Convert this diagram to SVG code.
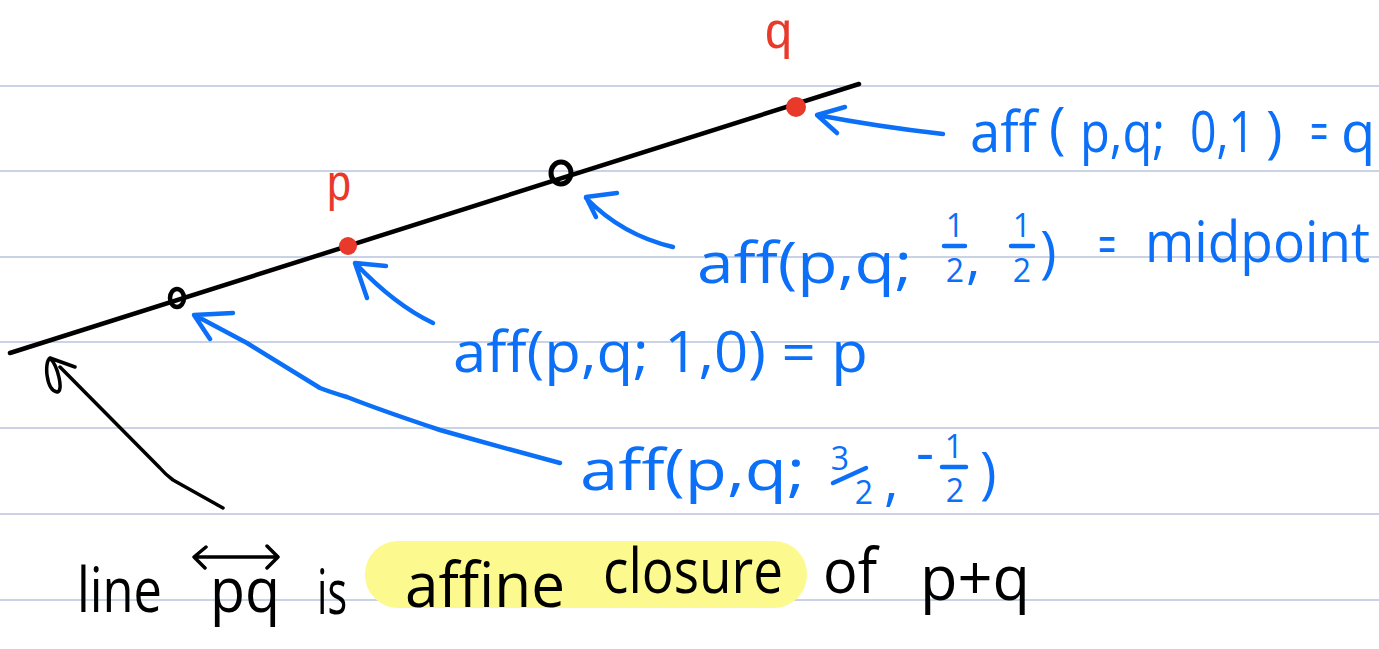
<svg xmlns="http://www.w3.org/2000/svg" width="1379" height="649" viewBox="0 0 1379 649">
<style>
.rule{stroke:#b9c5dc;stroke-width:1.6}
.blue{fill:#0b6ff7;font-family:"Open Sans","Liberation Sans",sans-serif;font-size:56px}
.frac{font-size:32px}
.blk{fill:#000;font-family:"Open Sans","Liberation Sans",sans-serif;font-size:62px}
.red{fill:#e8392a;font-family:"Liberation Sans","Open Sans",sans-serif;font-size:52px}
.bs{fill:none;stroke:#0b6ff7;stroke-width:4.5;stroke-linecap:round;stroke-linejoin:round}
.ks{fill:none;stroke:#000;stroke-width:3.5;stroke-linecap:round;stroke-linejoin:round}
</style>
<rect width="1379" height="649" fill="#fff"/>
<g id="rules">
<line class="rule" x1="0" y1="86" x2="1379" y2="86"/>
<line class="rule" x1="0" y1="171" x2="1379" y2="171"/>
<line class="rule" x1="0" y1="257" x2="1379" y2="257"/>
<line class="rule" x1="0" y1="342" x2="1379" y2="342"/>
<line class="rule" x1="0" y1="428" x2="1379" y2="428"/>
<line class="rule" x1="0" y1="514" x2="1379" y2="514"/>
<line class="rule" x1="0" y1="600" x2="1379" y2="600"/>
</g>
<g id="highlight">
<rect x="365" y="541" width="442" height="67" rx="33" fill="#fcfa8e"/>
</g>
<g id="line">
<line x1="10" y1="353" x2="859" y2="84" stroke="#000" stroke-width="4.5" stroke-linecap="round"/>
</g>
<g id="point-q">
<circle cx="796" cy="107" r="10" fill="#e8392a"/>
<text class="red" x="765" y="48" textLength="27" lengthAdjust="spacingAndGlyphs">q</text>
</g>
<g id="point-p">
<circle cx="348" cy="246" r="9" fill="#e8392a"/>
<text class="red" x="327" y="200" font-size="56" textLength="24" lengthAdjust="spacingAndGlyphs">p</text>
</g>
<g id="point-mid">
<ellipse cx="561" cy="173" rx="10" ry="11" fill="none" stroke="#000" stroke-width="5"/>
</g>
<g id="point-ext">
<ellipse cx="177" cy="298" rx="7" ry="9" fill="none" stroke="#000" stroke-width="4.5"/>
</g>
<g id="connectors">
<path class="bs" d="M943,134 Q880,127 817,115 M845,107 L817,115 L837,133"/>
<path class="bs" d="M673,247 Q622,235 586,198 M617,193 L586,197 L596,217"/>
<path class="bs" d="M433,323 Q395,305 356,264 M386,266 L355,263 L367,298"/>
<path class="bs" d="M560,463 Q500,447 440,430 Q380,410 347,397 Q330,392 320,388 L247,343 L200,318 M233,313 L194,315 L210,339"/>
<path class="ks" d="M223,508 L173,480 Q165,474 160,468 L60,367 M75,367 L50,358 M50,358 C44,362 46,390 57,392 C64,392 58,366 50,358"/>
</g>
<g id="label-q">
<text class="blue" x="970" y="152" textLength="67" lengthAdjust="spacingAndGlyphs">aff</text>
<text class="blue" x="1049" y="148" font-size="66">(</text>
<text class="blue" x="1080" y="152" textLength="85" lengthAdjust="spacingAndGlyphs">p,q;</text>
<text class="blue" x="1190" y="152" textLength="65" lengthAdjust="spacingAndGlyphs">0,1</text>
<text class="blue" x="1266" y="152" font-size="70">)</text>
<text class="blue" x="1310" y="151" textLength="18" lengthAdjust="spacingAndGlyphs">=</text>
<text class="blue" x="1341" y="152">q</text>
</g>
<g id="label-mid">
<text class="blue" x="697" y="283" textLength="215" lengthAdjust="spacingAndGlyphs">aff(p,q;</text>
<text class="blue frac" x="955" y="237" text-anchor="middle">1</text>
<line class="bs" x1="944" y1="246" x2="965" y2="246"/>
<text class="blue frac" x="955" y="282" text-anchor="middle">2</text>
<text class="blue" x="966" y="278">,</text>
<text class="blue frac" x="1022" y="237" text-anchor="middle">1</text>
<line class="bs" x1="1011" y1="246" x2="1033" y2="246"/>
<text class="blue frac" x="1022" y="282" text-anchor="middle">2</text>
<text class="blue" x="1040" y="272" font-size="78">)</text>
<text class="blue" x="1098" y="264" textLength="18" lengthAdjust="spacingAndGlyphs">=</text>
<text class="blue" x="1145" y="262" textLength="225" lengthAdjust="spacingAndGlyphs">midpoint</text>
</g>
<g id="label-p">
<text class="blue" x="453" y="372" textLength="415" lengthAdjust="spacingAndGlyphs">aff(p,q; 1,0) = p</text>
</g>
<g id="label-ext">
<text class="blue" x="580" y="490" textLength="225" lengthAdjust="spacingAndGlyphs">aff(p,q;</text>
<text class="blue frac" x="840" y="470" text-anchor="middle">3</text>
<line class="bs" x1="833" y1="483" x2="866" y2="468"/>
<text class="blue frac" x="864" y="504" text-anchor="middle">2</text>
<text class="blue" x="884" y="500">,</text>
<text class="blue" x="916" y="472" font-size="40">-</text>
<text class="blue frac" x="954" y="458" text-anchor="middle">1</text>
<line class="bs" x1="942" y1="467" x2="966" y2="467"/>
<text class="blue frac" x="955" y="502" text-anchor="middle">2</text>
<text class="blue" x="980" y="493" font-size="80">)</text>
</g>
<g id="caption">
<text class="blk" x="77" y="612" textLength="85" lengthAdjust="spacingAndGlyphs">line</text>
<text class="blk" x="210" y="612" textLength="70" lengthAdjust="spacingAndGlyphs">pq</text>
<path class="ks" d="M195,557 L277,557 M206,547 L194,557 L205,568 M267,546 L278,557 L267,568"/>
<text class="blk" x="317" y="614" textLength="30" lengthAdjust="spacingAndGlyphs">is</text>
<text class="blk" x="405" y="607" textLength="160" lengthAdjust="spacingAndGlyphs">affine</text>
<text class="blk" x="603" y="593" textLength="180" lengthAdjust="spacingAndGlyphs">closure</text>
<text class="blk" x="823" y="593" textLength="54" lengthAdjust="spacingAndGlyphs">of</text>
<text class="blk" x="920" y="600" textLength="110" lengthAdjust="spacingAndGlyphs">p+q</text>
</g>
</svg>
